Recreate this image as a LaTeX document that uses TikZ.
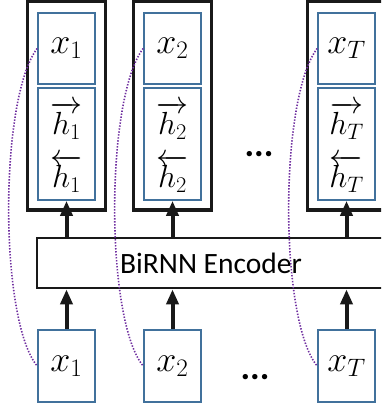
\RequirePackage{fix-cm}
\documentclass[tikz,border=0pt]{standalone}
\usepackage{fontspec}
\newfontfamily\carlito{Carlito}
\usetikzlibrary{arrows.meta}
\definecolor{cellblue}{RGB}{65,113,156}
\definecolor{outerblk}{RGB}{25,25,25}
\definecolor{linkpurple}{RGB}{112,48,160}
\tikzset{
  outerbox/.style={draw=outerblk, line width=3pt, minimum width=78pt, minimum height=208pt, inner sep=0pt},
  cellbox/.style={draw=cellblue, line width=1.7pt, minimum width=57pt, inner sep=0pt, font=\fontsize{36}{40}\selectfont},
  hlabel/.style={inner sep=0pt, anchor=base, font=\fontsize{32}{38}\selectfont},
  encbox/.style={draw=outerblk, line width=2.8pt, minimum width=348pt, minimum height=50pt, inner sep=0pt, font=\carlito\fontsize{29.5}{32}\selectfont},
  flow/.style={draw=outerblk, line width=4pt, -{Triangle[length=15pt,width=12pt]}},
  link/.style={draw=linkpurple, line width=1.6pt, dash pattern=on 1.4pt off 1.6pt},
  dotstyle/.style={inner sep=0pt, font=\carlito\bfseries\fontsize{36}{40}\selectfont}
}
\begin{document}
\begin{tikzpicture}[x=1pt,y=-1pt]
\useasboundingbox (0,0) rectangle (381,411);
\clip (0,0) rectangle (381,411);
% encoder
\node[encbox] (enc) at (211,263) {BiRNN Encoder};
% columns
\foreach \i/\dx/\s in {1/0/1, 2/106/2, 3/280/T}{
  \node[outerbox] (out\i) at (66+\dx,106) {};
  \node[cellbox, minimum height=71pt] (cx\i) at (66.5+\dx,48.5) {$x_{\s}$};
  \node[cellbox, minimum height=112pt] (ch\i) at (66.5+\dx,144) {};
  \node[hlabel] (hf\i) at (66.5+\dx,135) {$\overrightarrow{h_{\s}}$};
  \node[hlabel] (hb\i) at (66.5+\dx,188) {$\overleftarrow{h_{\s}}$};
  \node[cellbox, minimum height=72pt] (bx\i) at (66.5+\dx,366) {$x_{\s}$};
  \draw[flow] (bx\i.north) -- (bx\i.north |- enc.south);
  \draw[flow] (enc.north -| ch\i.south) -- (ch\i.south);
  \draw[link] (cx\i.west) .. controls +(-38,50) and +(-38,-46) .. (bx\i.west);
}
\node[dotstyle] (dotsA) at (259,154) {...};
\node[dotstyle] (dotsB) at (255,377) {...};
\end{tikzpicture}
\end{document}
